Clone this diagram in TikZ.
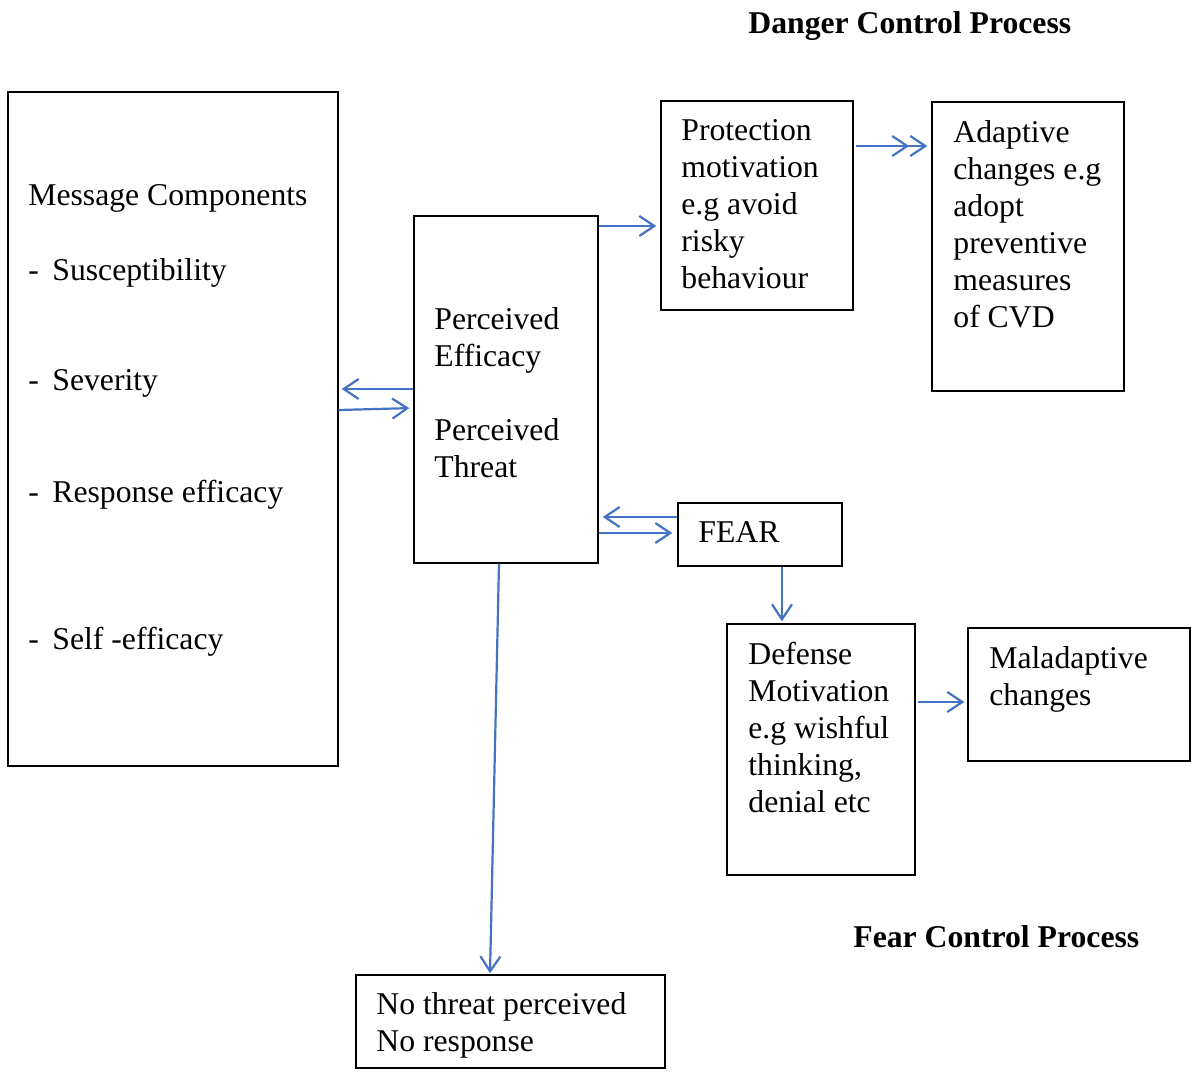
\documentclass[tikz,border=0pt]{standalone}
\usepackage{fontspec}
\setmainfont{Liberation Serif}
\usetikzlibrary{arrows.meta}
\definecolor{linkblue}{RGB}{68,114,196}

\tikzset{
	box/.style={draw, line width=0.7pt, inner sep=0pt},
	txt/.style={anchor=north west, inner sep=0pt, align=left},
	arr/.style={draw=linkblue, line width=1.1pt, -{Straight Barb[length=7.5pt,width=10pt]}},
	darr/.style={draw=linkblue, line width=1.1pt, -{Straight Barb[length=7.5pt,width=10pt] Straight Barb[length=7.5pt,width=10pt]}}
}

\begin{document}
\begin{tikzpicture}[x=0.5pt, y=-0.5pt, every node/.append style={font=\fontsize{15.85pt}{18.5pt}\selectfont}]
	\useasboundingbox (0,0) rectangle (1191,1078);
	% boxes
	\node[box, minimum width=330*0.5pt, minimum height=674*0.5pt] (msg) at (173,429) {};
	\node[box, minimum width=184*0.5pt, minimum height=347*0.5pt] (percv) at (506,389.5) {};
	\node[box, minimum width=192*0.5pt, minimum height=209*0.5pt] (prot) at (757,205.5) {};
	\node[box, minimum width=192*0.5pt, minimum height=289*0.5pt] (adapt) at (1028,246.5) {};
	\node[box, minimum width=164*0.5pt, minimum height=63*0.5pt] (fear) at (760,534.5) {};
	\node[box, minimum width=188*0.5pt, minimum height=251*0.5pt] (defm) at (821,749.5) {};
	\node[box, minimum width=222*0.5pt, minimum height=133*0.5pt] (malad) at (1079,694.5) {};
	\node[box, minimum width=309*0.5pt, minimum height=93*0.5pt] (nothr) at (510.5,1021.5) {};

	% texts
	\node[txt] (mcomp) at (28,184) {Message Components};
	\node[txt] (msus) at (28,258) {\makebox[12pt][l]{-}Susceptibility};
	\node[txt] (msev) at (28,369) {\makebox[12pt][l]{-}Severity};
	\node[txt] (mresp) at (28,480) {\makebox[12pt][l]{-}Response efficacy};
	\node[txt] (mself) at (28,627) {\makebox[12pt][l]{-}Self -efficacy};
	\node[txt] (percvtxt) at (434,307) {Perceived\\Efficacy\\[18.5pt]Perceived\\Threat};
	\node[txt] (prottxt) at (681,119) {Protection\\motivation\\e.g avoid\\risky\\behaviour};
	\node[txt] (adapttxt) at (953,120) {Adaptive\\changes e.g\\adopt\\preventive\\measures\\of CVD};
	\node[txt] (feartxt) at (698,521) {FEAR};
	\node[txt] (defmtxt) at (748,642) {Defense\\Motivation\\e.g wishful\\thinking,\\denial etc};
	\node[txt] (maladtxt) at (989,646) {Maladaptive\\changes};
	\node[txt] (nothrtxt) at (376,992) {No threat perceived\\No response};
	\node[txt, font=\fontsize{15.85pt}{18.5pt}\selectfont\bfseries] (danger) at (748,11) {Danger Control Process};
	\node[txt, font=\fontsize{15.85pt}{18.5pt}\selectfont\bfseries] (fearctl) at (853,925) {Fear Control Process};

	% connectors
	\draw[arr, shorten >=1.5pt] (percv.west |- 0,389) -- (msg.east |- 0,389);
	\draw[arr, shorten >=2pt] (msg.east |- 0,410) -- (percv.west |- 0,408);
	\draw[arr, shorten >=2pt] (percv.east |- 0,226) -- (prot.west |- 0,226);
	\draw[darr, shorten <=1pt, shorten >=2pt] (prot.east |- 0,146) -- (adapt.west |- 0,146);
	\draw[arr, shorten >=2pt] (fear.west |- 0,517) -- (percv.east |- 0,517);
	\draw[arr, shorten >=2.5pt] (percv.east |- 0,533) -- (fear.west |- 0,533);
	\draw[arr, shorten >=1pt] (fear.south -| 782,0) -- (defm.north -| 782,0);
	\draw[arr, shorten <=1pt, shorten >=1.5pt] (defm.east |- 0,702) -- (malad.west |- 0,702);
	\draw[arr, shorten >=0.5pt] (percv.south -| 499,0) -- (nothr.north -| 490,0);
\end{tikzpicture}
\end{document}
